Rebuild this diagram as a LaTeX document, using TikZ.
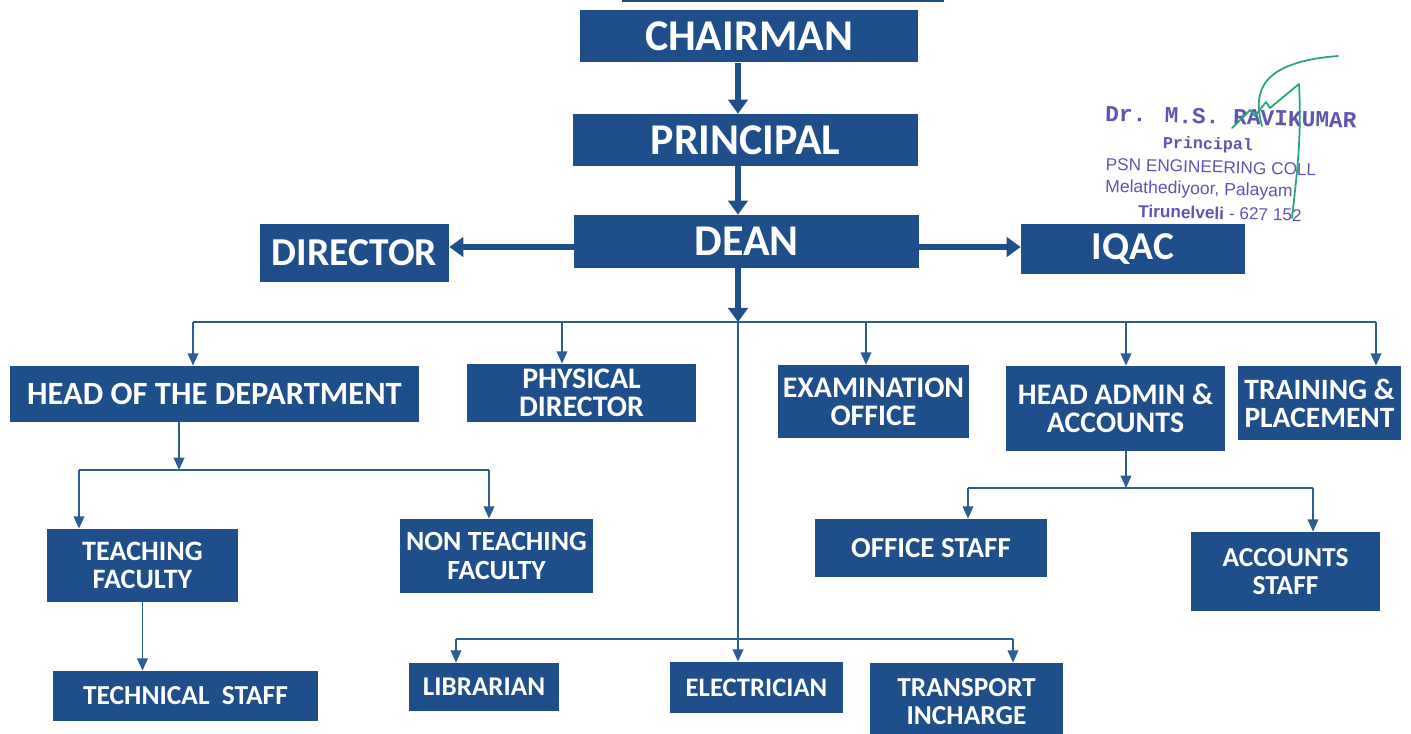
\documentclass[tikz,border=0pt]{standalone}
\usepackage{fontspec}
\setmainfont{Carlito}
\newfontfamily\stampmono{Liberation Mono}
\newfontfamily\stampsans{Liberation Sans}
\usetikzlibrary{arrows.meta,positioning}
\definecolor{boxblue}{RGB}{30,79,139}
\definecolor{lineblue}{RGB}{45,92,150}
\definecolor{stampink}{RGB}{96,86,178}
\definecolor{signgreen}{RGB}{40,165,120}
\tikzset{
  post/.style={fill=boxblue, text=white, align=center, inner sep=2pt},
  toppost/.style={post, font=\fontsize{25}{25}\selectfont\bfseries},
  sidepost/.style={post, font=\fontsize{22.5}{22.5}\selectfont\bfseries},
  subpost/.style={post, font=\fontsize{#1}{16}\selectfont\bfseries},
  subpost/.default=16,
  bigarrow/.style={draw=boxblue, line width=3.6pt, -{Triangle[width=11pt,length=8pt]}},
  link/.style={draw=lineblue, line width=1.1pt},
  linkarrow/.style={link, -{Triangle[width=6pt,length=7pt]}},
  stampline/.style={text=stampink, inner sep=0pt, rotate=-1.5},
  sign/.style={draw=signgreen, line width=1pt, line cap=round, line join=round},
}
\begin{document}
\begin{tikzpicture}[x=0.02cm,y=-0.02cm]
  \useasboundingbox (0,0) rectangle (1411,734);
  \fill[boxblue] (622,-4) rectangle (944,2);
  % top levels
  \node[toppost,minimum width=6.76cm,minimum height=1.06cm] (chairman) at (749,36) {CHAIRMAN};
  \node[toppost,minimum width=6.9cm,minimum height=1.04cm] (principal) at (745.5,140) {PRINCIPAL};
  \node[toppost,minimum width=6.9cm,minimum height=1.06cm] (dean) at (746.5,241.5) {DEAN};
  \node[sidepost,minimum width=3.78cm,minimum height=1.16cm] (director) at (354.5,253) {DIRECTOR};
  \node[sidepost,minimum width=4.48cm,minimum height=1.0cm] (iqac) at (1133,249) {IQAC};
  % second row
  \node[subpost=18.5,minimum width=8.18cm,minimum height=1.12cm] (hod) at (214.5,394) {HEAD OF THE DEPARTMENT};
  \node[subpost=17,minimum width=4.58cm,minimum height=1.16cm] (physical) at (581.5,393) {PHYSICAL\\DIRECTOR};
  \node[subpost=17,minimum width=3.82cm,minimum height=1.46cm] (exam) at (873.5,401.5) {EXAMINATION\\OFFICE};
  \node[subpost=17,minimum width=4.38cm,minimum height=1.7cm] (admin) at (1115.5,408.5) {HEAD ADMIN \&\\ACCOUNTS};
  \node[subpost=16.8,minimum width=3.26cm,minimum height=1.48cm] (training) at (1319.5,403) {TRAINING \&\\PLACEMENT};
  % staff
  \node[subpost=16,minimum width=3.82cm,minimum height=1.46cm] (teaching) at (142.5,565.5) {TEACHING\\FACULTY};
  \node[subpost=15.8,minimum width=3.86cm,minimum height=1.48cm] (nonteaching) at (496.5,556) {NON TEACHING\\FACULTY};
  \node[subpost=15.6,minimum width=5.3cm,minimum height=1.0cm] (technical) at (185.5,696) {TECHNICAL\ \ STAFF};
  \node[subpost=16.5,minimum width=4.64cm,minimum height=1.16cm] (office) at (931,548) {OFFICE STAFF};
  \node[subpost=15.6,minimum width=3.78cm,minimum height=1.58cm] (accounts) at (1285.5,571.5) {ACCOUNTS\\STAFF};
  \node[subpost=15.4,minimum width=3.0cm,minimum height=0.96cm] (librarian) at (484,687) {LIBRARIAN};
  \node[subpost=15.2,minimum width=3.46cm,minimum height=1.02cm] (electrician) at (756.5,687.5) {ELECTRICIAN};
  \node[subpost=15.6,minimum width=3.86cm,minimum height=1.54cm,text depth=0pt] (transport) at (966.5,701.5) {TRANSPORT\\INCHARGE};

  % branch points
  \coordinate (spine) at (738,322);
  \coordinate (side) at (0,247);
  \coordinate (d1) at (193,322);
  \coordinate (d2) at (562,322);
  \coordinate (d3) at (866,322);
  \coordinate (d4) at (1126,322);
  \coordinate (d5) at (1376,322);
  \coordinate (h0) at (179,470);
  \coordinate (h1) at (79,470);
  \coordinate (h2) at (489,470);
  \coordinate (a0) at (1126,488);
  \coordinate (a1) at (968,488);
  \coordinate (a2) at (1313,488);
  \coordinate (b1) at (456,639);
  \coordinate (b2) at (1013,639);

  % thick arrows
  \draw[bigarrow] (chairman.south -| spine) -- (principal.north -| spine);
  \draw[bigarrow] (principal.south -| spine) -- (dean.north -| spine);
  \draw[bigarrow] (dean.south -| spine) -- (spine);
  \draw[bigarrow] (dean.west |- side) -- (director.east |- side);
  \draw[bigarrow] (dean.east |- side) -- (iqac.west |- side);

  % main bus
  \draw[link] (d1) -- (d5);
  \draw[linkarrow] (d1) -- (d1 |- hod.north);
  \draw[linkarrow] (d2) -- (d2 |- physical.north);
  \draw[linkarrow] (d3) -- (d3 |- exam.north);
  \draw[linkarrow] (d4) -- (d4 |- admin.north);
  \draw[linkarrow] (d5) -- (d5 |- training.north);
  \draw[linkarrow] (spine) -- (electrician.north -| spine);

  % department
  \draw[linkarrow] (hod.south -| h0) -- (h0);
  \draw[link] (h1) -- (h2);
  \draw[linkarrow] (h1) -- (h1 |- teaching.north);
  \draw[linkarrow] (h2) -- (h2 |- nonteaching.north);
  \draw[linkarrow] (teaching.south) -- (teaching.south |- technical.north);

  % admin
  \draw[linkarrow] (admin.south -| a0) -- (a0);
  \draw[link] (a1) -- (a2);
  \draw[linkarrow] (a1) -- (a1 |- office.north);
  \draw[linkarrow] (a2) -- (a2 |- accounts.north);

  % support staff
  \draw[link] (b1) -- (b2);
  \draw[linkarrow] (b1) -- (b1 |- librarian.north);
  \draw[linkarrow] (b2) -- (b2 |- transport.north);

  % seal
  \node[stampline,font=\stampmono\bfseries\fontsize{13}{13}\selectfont] (sealname) at (1231,117) {Dr. M.S. RAVIKUMAR};
  \node[stampline,font=\stampmono\bfseries\fontsize{9.5}{9.5}\selectfont] (sealpost) at (1208,145) {Principal};
  \node[stampline,font=\stampsans\fontsize{9.8}{9.8}\selectfont] (sealcollege) at (1211,167) {PSN ENGINEERING COLL};
  \node[stampline,font=\stampsans\fontsize{10}{10}\selectfont] (sealplace) at (1199,190) {Melathediyoor, Palayam};
  \node[stampline,font=\stampsans\fontsize{9.8}{9.8}\selectfont] (sealtown) at (1220,213) {\textbf{Tirunelveli} - 627 152};
  \draw[sign] (1232,128) -- (1250,110) -- (1255,116) -- (1266,102) -- (1270,108) -- (1299,84)
    .. controls (1302,140) and (1296,180) .. (1292,218);
  \draw[sign] (1262,126) .. controls (1252,90) and (1262,62) .. (1338,56);
\end{tikzpicture}
\end{document}
